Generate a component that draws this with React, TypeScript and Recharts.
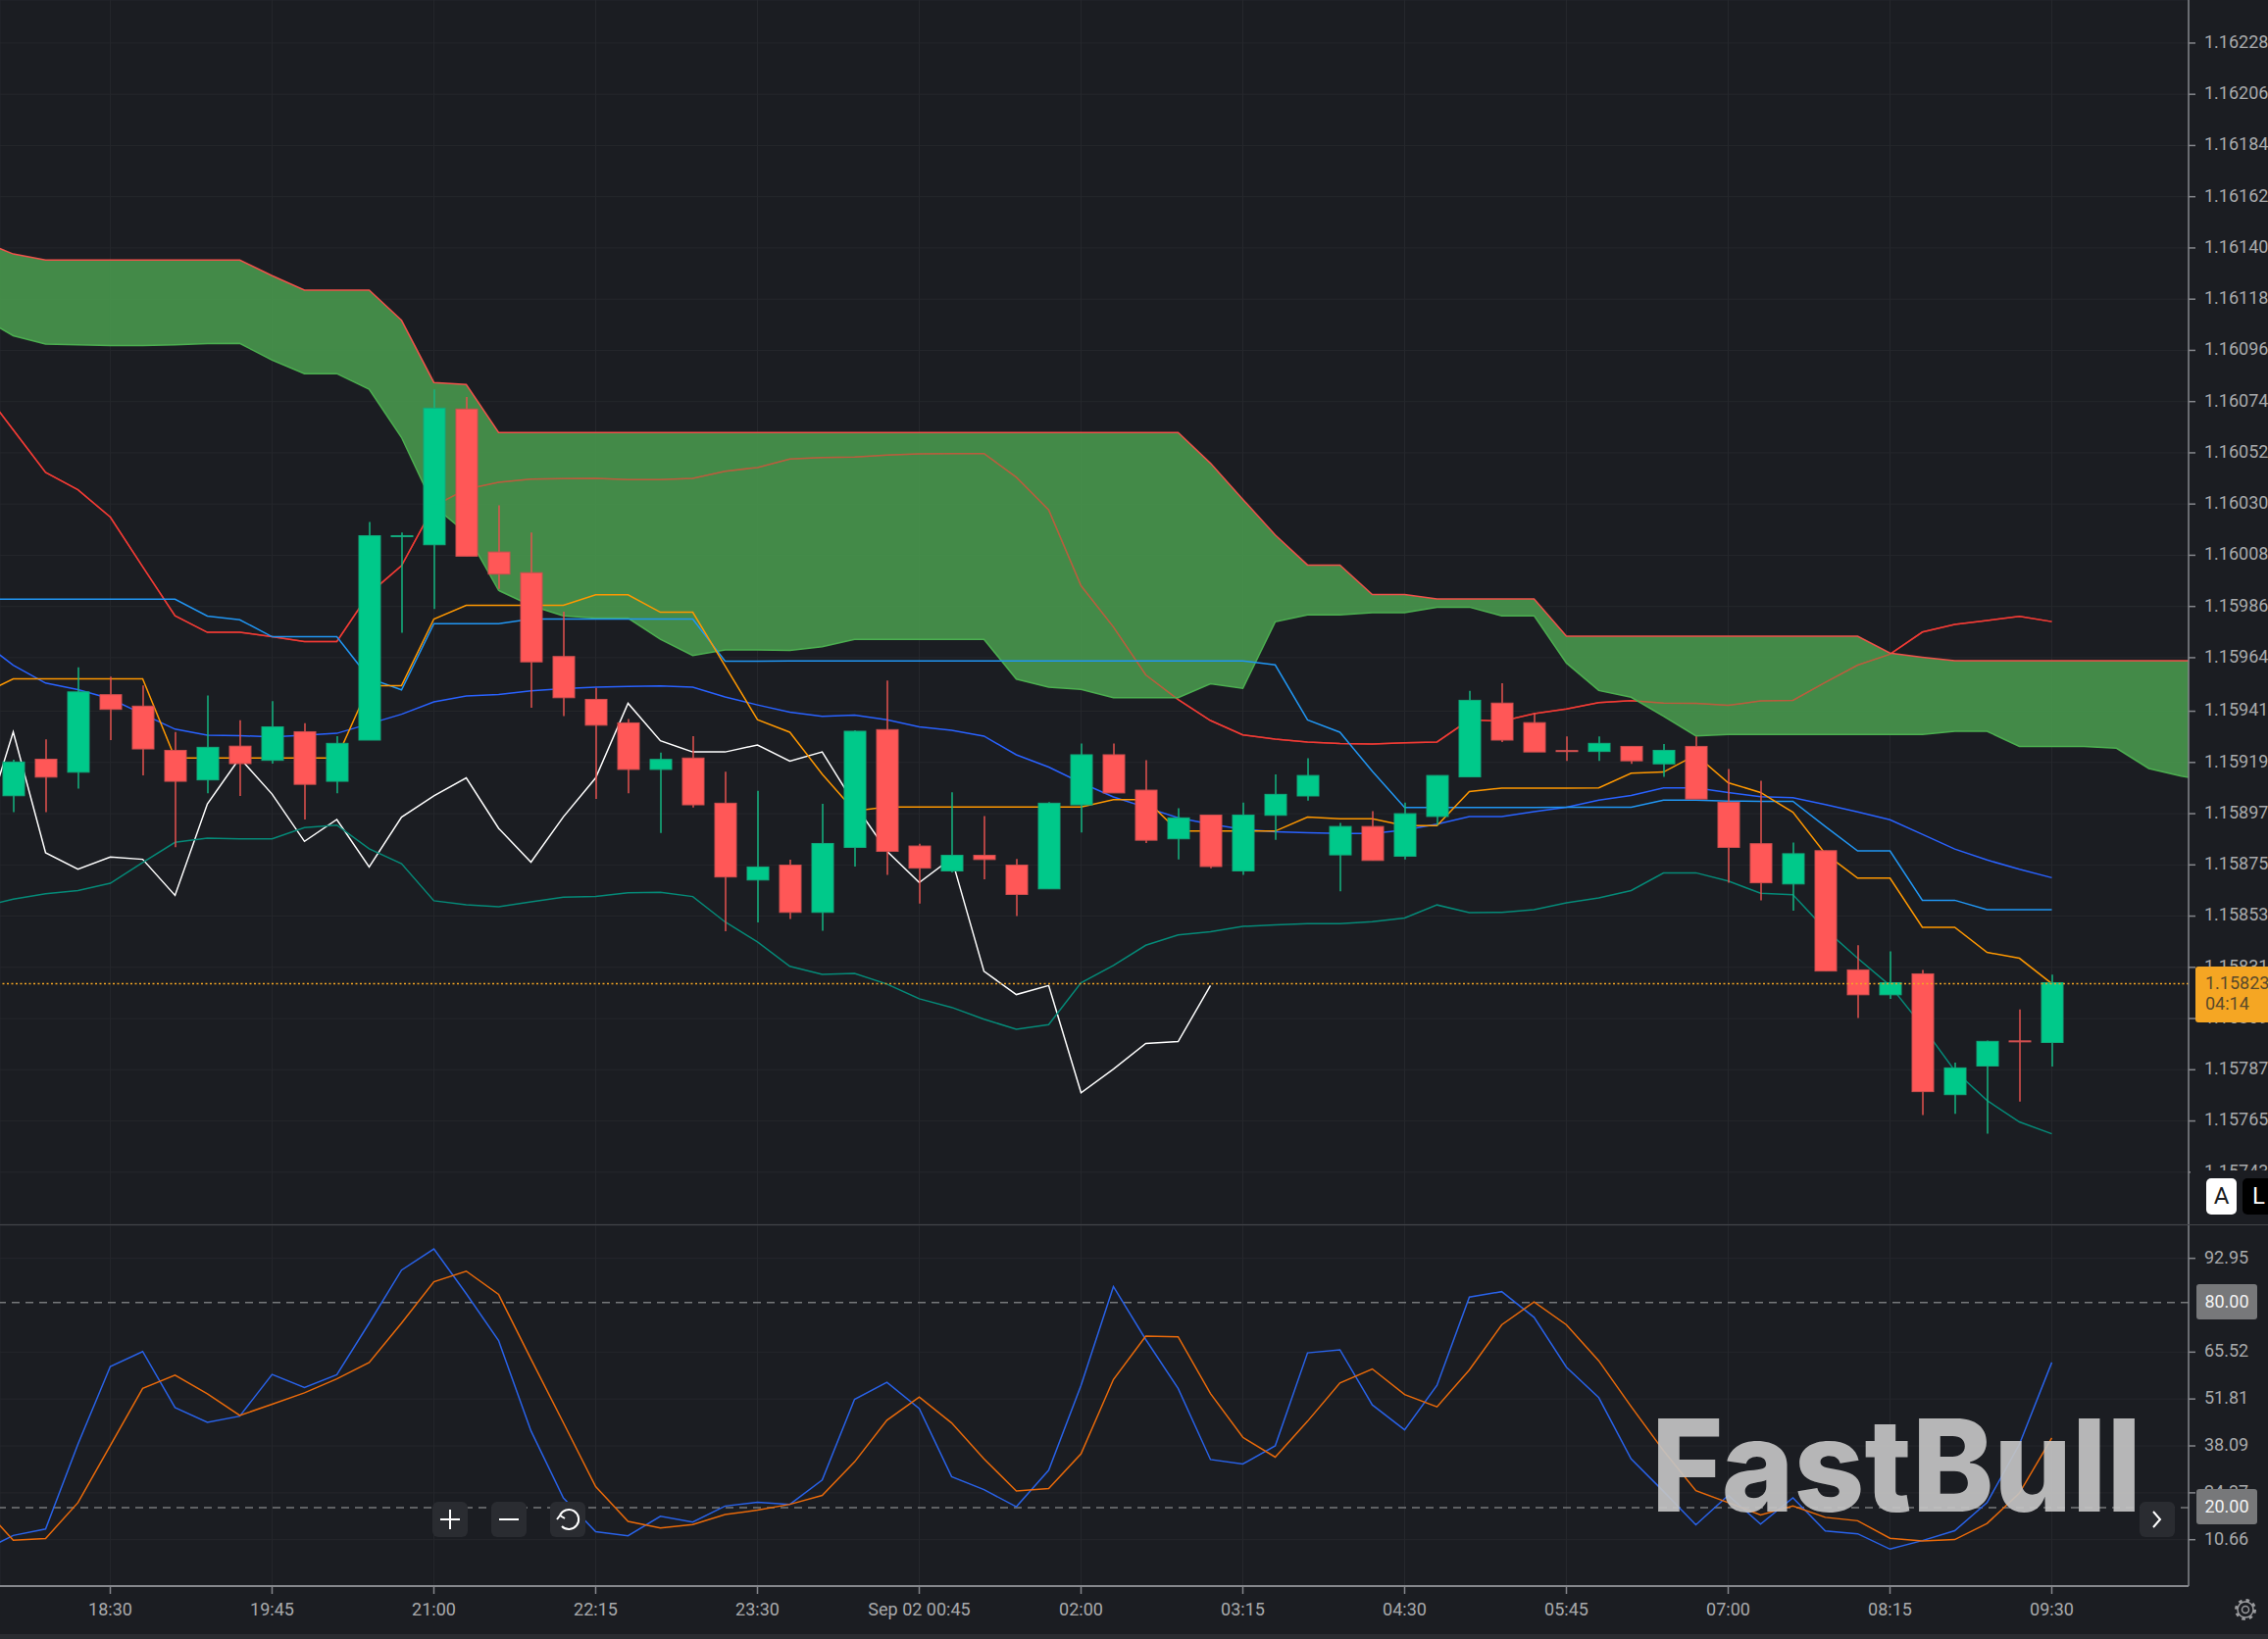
import { Area, Bar, CartesianGrid, ComposedChart, Line, ReferenceLine, XAxis, YAxis } from 'recharts';

const BG = '#1b1d22';
const GRID = '#25272c';
const AXIS = '#85878c';
const TEXT = '#a8a9ab';
const FONT = 'Roboto, sans-serif';

// candles, one per 15 minutes, bar 0 is the first one on screen
const opens = [1.159047, 1.159204, 1.159148, 1.159481, 1.159432, 1.159242, 1.159115, 1.15926, 1.159199, 1.159322, 1.159109, 1.159286, 1.160162, 1.160125, 1.160708, 1.160094, 1.160005, 1.159645, 1.159461, 1.15936, 1.15916, 1.159209, 1.159015, 1.158685, 1.158749, 1.158546, 1.158825, 1.159331, 1.158831, 1.158724, 1.158791, 1.158749, 1.158647, 1.159008, 1.159223, 1.159071, 1.158862, 1.158964, 1.158724, 1.158963, 1.159046, 1.158793, 1.158915, 1.158787, 1.158958, 1.159128, 1.159445, 1.159361, 1.159241, 1.159237, 1.159259, 1.159184, 1.159259, 1.159019, 1.158841, 1.158668, 1.158811, 1.158299, 1.158192, 1.158282, 1.157763, 1.157886, 1.157994, 1.157987];
const closes = [1.159192, 1.159127, 1.159493, 1.159418, 1.159248, 1.159109, 1.159255, 1.159185, 1.159343, 1.159096, 1.159272, 1.160164, 1.160164, 1.160712, 1.160076, 1.159999, 1.159622, 1.159468, 1.15935, 1.15916, 1.159203, 1.159008, 1.158698, 1.158741, 1.158546, 1.158842, 1.159324, 1.158808, 1.158736, 1.158791, 1.158773, 1.158623, 1.159015, 1.159223, 1.159059, 1.158856, 1.158952, 1.158743, 1.158964, 1.159053, 1.159134, 1.158915, 1.158769, 1.15897, 1.159134, 1.159457, 1.159286, 1.159235, 1.15924, 1.159272, 1.159197, 1.159242, 1.159033, 1.158825, 1.158673, 1.158798, 1.158294, 1.158192, 1.158244, 1.157776, 1.157878, 1.157992, 1.157993, 1.158244];
const highs = [1.159202, 1.159289, 1.159599, 1.159559, 1.159521, 1.159321, 1.159478, 1.159371, 1.159453, 1.159359, 1.159303, 1.160223, 1.160178, 1.160792, 1.16076, 1.160294, 1.160178, 1.159838, 1.15951, 1.159377, 1.159232, 1.159303, 1.15915, 1.159068, 1.158772, 1.159012, 1.159328, 1.159542, 1.158841, 1.159062, 1.15896, 1.158776, 1.15902, 1.159271, 1.159271, 1.1592, 1.158993, 1.158964, 1.159018, 1.159139, 1.159208, 1.15893, 1.158981, 1.159018, 1.159134, 1.159498, 1.15953, 1.159403, 1.159302, 1.159302, 1.159259, 1.159269, 1.159302, 1.159162, 1.159111, 1.158846, 1.158811, 1.158405, 1.158379, 1.158299, 1.157901, 1.157996, 1.158129, 1.158279];
const lows = [1.158977, 1.158977, 1.159078, 1.159286, 1.159134, 1.158826, 1.159058, 1.159046, 1.159185, 1.158945, 1.159058, 1.159286, 1.159747, 1.159849, 1.160076, 1.159936, 1.159425, 1.159389, 1.159033, 1.159058, 1.158887, 1.158997, 1.158465, 1.158503, 1.158518, 1.158467, 1.158743, 1.158707, 1.158584, 1.158718, 1.158688, 1.15853, 1.158647, 1.158889, 1.159059, 1.158844, 1.158773, 1.158736, 1.158707, 1.158858, 1.159026, 1.158637, 1.158769, 1.158773, 1.158922, 1.159128, 1.159278, 1.159235, 1.159197, 1.159197, 1.159184, 1.159128, 1.159033, 1.158673, 1.158598, 1.158553, 1.158294, 1.158092, 1.158174, 1.157675, 1.157681, 1.157595, 1.157733, 1.157884];

// the indicator arrays start one bar before bar 0, so the lines run off the left edge
const spanA = [1.16143, 1.161374, 1.161348, 1.161348, 1.161348, 1.161348, 1.161348, 1.161348, 1.161348, 1.161281, 1.161219, 1.161219, 1.161219, 1.161089, 1.160822, 1.160813, 1.160607, 1.160607, 1.160607, 1.160607, 1.160607, 1.160607, 1.160607, 1.160607, 1.160607, 1.160607, 1.160607, 1.160607, 1.160607, 1.160607, 1.160607, 1.160607, 1.160607, 1.160607, 1.160607, 1.160607, 1.160607, 1.160607, 1.160475, 1.16032, 1.160167, 1.160038, 1.160038, 1.159911, 1.159911, 1.159892, 1.159892, 1.159892, 1.159892, 1.159732, 1.159732, 1.159732, 1.159732, 1.159732, 1.159732, 1.159732, 1.159732, 1.159732, 1.159732, 1.15966, 1.159642, 1.159627, 1.159627, 1.159627, 1.159627, 1.159627, 1.159627, 1.159627, 1.159627, 1.159627];
const spanB = [1.161103, 1.161023, 1.160987, 1.160984, 1.160981, 1.160981, 1.160984, 1.160989, 1.16099, 1.160918, 1.16086, 1.16086, 1.160793, 1.160586, 1.160291, 1.160176, 1.159929, 1.159864, 1.15982, 1.15981, 1.15981, 1.159719, 1.159649, 1.159673, 1.159673, 1.159671, 1.159687, 1.159719, 1.159719, 1.159719, 1.159719, 1.159719, 1.159548, 1.159513, 1.159504, 1.159468, 1.159468, 1.159468, 1.159528, 1.159508, 1.159794, 1.159824, 1.159824, 1.159833, 1.159833, 1.159857, 1.159857, 1.15982, 1.15982, 1.159617, 1.159499, 1.15947, 1.159389, 1.159304, 1.15931, 1.15931, 1.15931, 1.15931, 1.15931, 1.15931, 1.15931, 1.159324, 1.159324, 1.159259, 1.159259, 1.159259, 1.159251, 1.159164, 1.159131, 1.159111];
const tenkan = [1.159482, 1.159549, 1.159549, 1.159549, 1.159549, 1.159549, 1.159209, 1.159209, 1.159209, 1.159209, 1.159209, 1.159209, 1.15952, 1.15952, 1.159806, 1.159865, 1.159865, 1.159865, 1.159865, 1.15991, 1.15991, 1.159835, 1.159835, 1.159604, 1.159374, 1.15932, 1.15914, 1.158982, 1.158999, 1.158999, 1.158999, 1.158999, 1.158999, 1.158999, 1.158999, 1.15903, 1.15903, 1.158895, 1.158895, 1.158895, 1.158895, 1.158955, 1.158948, 1.158948, 1.158919, 1.158919, 1.159065, 1.15908, 1.15908, 1.15908, 1.159081, 1.159144, 1.159149, 1.159222, 1.159103, 1.159061, 1.158976, 1.158798, 1.158693, 1.158693, 1.158482, 1.158482, 1.158374, 1.158349, 1.15824];
const kijun = [1.159891, 1.159891, 1.159891, 1.159891, 1.159891, 1.159891, 1.159891, 1.159819, 1.159803, 1.15973, 1.15973, 1.15973, 1.159552, 1.159502, 1.159786, 1.159786, 1.159786, 1.159806, 1.159806, 1.159806, 1.159806, 1.159806, 1.159806, 1.159625, 1.159625, 1.159626, 1.159626, 1.159626, 1.159626, 1.159626, 1.159626, 1.159626, 1.159626, 1.159626, 1.159626, 1.159626, 1.159626, 1.159626, 1.159626, 1.159626, 1.159609, 1.159373, 1.15932, 1.159152, 1.158997, 1.158997, 1.158997, 1.158997, 1.158997, 1.158998, 1.158998, 1.158998, 1.159028, 1.159028, 1.159024, 1.159023, 1.159023, 1.158915, 1.15881, 1.15881, 1.158598, 1.158598, 1.158558, 1.158558, 1.158558];
const chikou: (number | null)[] = [1.158872, 1.159321, 1.158802, 1.158732, 1.158784, 1.158774, 1.158619, 1.159012, 1.159209, 1.159054, 1.158851, 1.158945, 1.158741, 1.158955, 1.159047, 1.159124, 1.158907, 1.158762, 1.158956, 1.159124, 1.159444, 1.159283, 1.159235, 1.159235, 1.159265, 1.159196, 1.159235, 1.159012, 1.158809, 1.158674, 1.158779, 1.158293, 1.158193, 1.158232, 1.157771, 1.157873, 1.157983, 1.157991, 1.158232];
const bbUpper = [1.16080, 1.160619, 1.160436, 1.160361, 1.160244, 1.160031, 1.15982, 1.159749, 1.159749, 1.15973, 1.159709, 1.159709, 1.159915, 1.160035, 1.160291, 1.160364, 1.160393, 1.160407, 1.160409, 1.16041, 1.160405, 1.160405, 1.16041, 1.160441, 1.160457, 1.160493, 1.1605, 1.160502, 1.16051, 1.160516, 1.160517, 1.160517, 1.160415, 1.160275, 1.159949, 1.159772, 1.159566, 1.15946, 1.15937, 1.159308, 1.15929, 1.159278, 1.159271, 1.159269, 1.159274, 1.159278, 1.159373, 1.159367, 1.1594, 1.15942, 1.159447, 1.159455, 1.159445, 1.159444, 1.159435, 1.159454, 1.159457, 1.159534, 1.159608, 1.159655, 1.15975, 1.159783, 1.1598, 1.159818, 1.159795];
const bbMiddle = [1.159714, 1.159608, 1.159531, 1.159503, 1.159464, 1.159398, 1.159333, 1.159307, 1.159305, 1.1593, 1.159307, 1.159315, 1.159356, 1.159397, 1.15945, 1.159475, 1.159482, 1.159498, 1.159507, 1.159513, 1.159517, 1.159519, 1.159513, 1.159471, 1.159437, 1.159406, 1.159388, 1.159393, 1.159373, 1.159343, 1.159328, 1.159303, 1.159223, 1.15917, 1.159103, 1.159042, 1.158997, 1.158952, 1.158925, 1.158903, 1.158892, 1.158888, 1.158885, 1.158885, 1.1589, 1.158925, 1.158958, 1.158958, 1.158979, 1.158998, 1.159028, 1.159048, 1.159081, 1.159081, 1.159061, 1.159043, 1.159039, 1.159009, 1.158978, 1.158944, 1.158881, 1.158818, 1.158771, 1.158731, 1.158695];
const bbLower = [1.15857, 1.158603, 1.158626, 1.15864, 1.158671, 1.15876, 1.158847, 1.158865, 1.158862, 1.158862, 1.15891, 1.158921, 1.158819, 1.158755, 1.158596, 1.158579, 1.15857, 1.158591, 1.158611, 1.158614, 1.15863, 1.158632, 1.158614, 1.158505, 1.158419, 1.158314, 1.15828, 1.158284, 1.158238, 1.158175, 1.158138, 1.158087, 1.158044, 1.158064, 1.158244, 1.158318, 1.158405, 1.158449, 1.158463, 1.158486, 1.158492, 1.158498, 1.158498, 1.158506, 1.158522, 1.158578, 1.158545, 1.158546, 1.158558, 1.158587, 1.158608, 1.15864, 1.158715, 1.158716, 1.158681, 1.158628, 1.158622, 1.158473, 1.158349, 1.158232, 1.158057, 1.157866, 1.157738, 1.157646, 1.157595];

// stochastic pane
const stochK = [7.2, 11.9, 13.8, 38.6, 61.3, 65.7, 49.3, 45.0, 46.8, 59.0, 55.2, 58.9, 74.0, 89.5, 95.7, 82.6, 68.9, 42.5, 22.9, 13.0, 11.8, 17.5, 15.8, 20.5, 21.6, 21.0, 28.1, 51.7, 56.7, 49.0, 29.1, 25.3, 20.3, 31.0, 55.8, 84.7, 69.2, 54.9, 34.1, 32.8, 38.1, 65.3, 66.2, 50.1, 42.8, 55.8, 81.6, 83.2, 75.7, 61.1, 52.2, 34.3, 24.8, 15.0, 23.6, 15.2, 22.9, 13.2, 12.4, 7.9, 10.4, 13.3, 21.5, 38.6, 62.5];
const stochD = [21.0, 10.5, 11.0, 21.5, 38.2, 54.9, 58.8, 53.3, 47.0, 50.3, 53.6, 57.7, 62.5, 74.0, 86.1, 89.2, 82.4, 63.5, 44.9, 26.2, 16.0, 14.1, 15.1, 18.0, 19.3, 21.0, 23.6, 33.4, 45.6, 52.4, 44.8, 34.3, 24.9, 25.6, 35.8, 57.5, 70.2, 70.0, 53.4, 40.6, 34.8, 45.3, 56.5, 60.6, 53.1, 49.5, 60.3, 73.5, 80.2, 73.5, 63.0, 49.6, 36.7, 25.0, 21.5, 17.9, 20.5, 17.2, 16.2, 11.1, 10.3, 10.7, 15.4, 24.3, 40.4];

const priceTicks = [1.16228, 1.16206, 1.16184, 1.16162, 1.1614, 1.16118, 1.16096, 1.16074, 1.16052, 1.1603, 1.16008, 1.15986, 1.15964, 1.15941, 1.15919, 1.15897, 1.15875, 1.15853, 1.15831, 1.15809, 1.15787, 1.15765, 1.15743];
const stochTicks = [92.95, 65.52, 51.81, 38.09, 24.37, 10.66];
const timeTicks = [3, 8, 13, 18, 23, 28, 33, 38, 43, 48, 53, 58, 63];
const timeLabels = ['18:30', '19:45', '21:00', '22:15', '23:30', 'Sep 02 00:45', '02:00', '03:15', '04:30', '05:45', '07:00', '08:15', '09:30'];

const lastPrice = 1.15824;
const xDomain = [-0.409, 67.227];

const priceRows = spanA.map((a, k) => {
  const bar = k - 1;
  const hasCandle = bar >= 0 && bar < opens.length;
  return {
    bar,
    cloud: [spanB[k], a],
    spanA: a,
    spanB: spanB[k],
    tenkan: tenkan[k] ?? null,
    kijun: kijun[k] ?? null,
    chikou: chikou[k] ?? null,
    bbUpper: bbUpper[k] ?? null,
    bbMiddle: bbMiddle[k] ?? null,
    bbLower: bbLower[k] ?? null,
    open: hasCandle ? opens[bar] : null,
    close: hasCandle ? closes[bar] : null,
    high: hasCandle ? highs[bar] : null,
    low: hasCandle ? lows[bar] : null,
    wick: hasCandle ? [lows[bar], highs[bar]] : null,
  };
});

const stochRows = stochK.map((k, i) => ({ bar: i - 1, k, d: stochD[i] }));

function Candle(props: any) {
  const { x, y, width, height, payload } = props;
  if (!payload || payload.wick == null || !isFinite(y) || !isFinite(height)) return null;
  const { open, close, high, low } = payload;
  const up = close >= open;
  const perUnit = height / (high - low);
  const top = y + (high - Math.max(open, close)) * perUnit;
  const bodyH = Math.max(Math.abs(close - open) * perUnit, 1);
  const cx = x + width / 2;
  return (
    <g>
      <line x1={cx} x2={cx} y1={y} y2={y + height} stroke={up ? '#14b682' : '#e5524f'} strokeWidth={1.5} />
      <rect x={x} y={top} width={width} height={bodyH} fill={up ? '#00c98a' : '#ff5757'} stroke={up ? '#12a97c' : '#d04f4f'} strokeWidth={1} />
    </g>
  );
}

const lineProps = { type: 'linear' as const, dot: false, activeDot: false, isAnimationActive: false, strokeWidth: 1.5 };
const tickStyle = { fill: TEXT, fontSize: 18, fontFamily: FONT };

function PricePane() {
  return (
    <ComposedChart width={2313} height={1249} data={priceRows} margin={{ top: 0, right: 0, bottom: 0, left: 0 }}>
      <CartesianGrid stroke={GRID} strokeWidth={1} />
      <XAxis dataKey="bar" type="number" domain={xDomain} ticks={timeTicks} allowDataOverflow hide />
      <YAxis
        orientation="right"
        width={81}
        domain={[1.157206, 1.162465]}
        ticks={priceTicks}
        interval={0}
        allowDataOverflow
        tickFormatter={(v: number) => v.toFixed(5)}
        tick={{ ...tickStyle, dy: -1.5 }}
        tickSize={7}
        tickMargin={9}
        axisLine={{ stroke: AXIS, strokeWidth: 1.5 }}
        tickLine={{ stroke: AXIS, strokeWidth: 1.5 }}
      />
      <Line {...lineProps} dataKey="bbUpper" stroke="#f23b35" zIndex={90} />
      <Area type="linear" dataKey="cloud" stroke="none" fill="#4a9e4f" fillOpacity={0.85} dot={false} activeDot={false} isAnimationActive={false} zIndex={100} />
      {/* same band again over the cloud, that is why it looks dull inside the green */}
      <Line {...lineProps} dataKey="bbUpper" stroke="#f23b35" strokeOpacity={0.62} zIndex={110} />
      <Line {...lineProps} dataKey="spanA" stroke="#f0524a" />
      <Line {...lineProps} dataKey="spanB" stroke="#4caf50" />
      <Line {...lineProps} dataKey="chikou" stroke="#ffffff" />
      <Line {...lineProps} dataKey="bbLower" stroke="#058a78" />
      <Line {...lineProps} dataKey="bbMiddle" stroke="#2962ff" />
      <Line {...lineProps} dataKey="kijun" stroke="#2196f3" />
      <Line {...lineProps} dataKey="tenkan" stroke="#ff9800" />
      <Bar dataKey="wick" barSize={22} shape={<Candle />} isAnimationActive={false} zIndex={450} />
      <ReferenceLine y={lastPrice} stroke="#f5a623" strokeWidth={1.5} strokeDasharray="2 2.5" zIndex={460} />
    </ComposedChart>
  );
}

function StochPane() {
  return (
    <ComposedChart width={2313} height={422} data={stochRows} margin={{ top: 0, right: 0, bottom: 0, left: 0 }}>
      <CartesianGrid stroke={GRID} strokeWidth={1} />
      <XAxis
        dataKey="bar"
        type="number"
        domain={xDomain}
        ticks={timeTicks}
        interval={0}
        allowDataOverflow
        height={54}
        tickFormatter={(v: number) => timeLabels[timeTicks.indexOf(v)]}
        tick={tickStyle}
        tickSize={8}
        tickMargin={9}
        axisLine={{ stroke: AXIS, strokeWidth: 2 }}
        tickLine={{ stroke: AXIS, strokeWidth: 1.5 }}
      />
      <YAxis
        orientation="right"
        width={81}
        domain={[-2.9, 102.6]}
        ticks={stochTicks}
        interval={0}
        allowDataOverflow
        tickFormatter={(v: number) => v.toFixed(2)}
        tick={{ ...tickStyle, dy: -1.5 }}
        tickSize={7}
        tickMargin={9}
        axisLine={{ stroke: AXIS, strokeWidth: 1.5 }}
        tickLine={{ stroke: AXIS, strokeWidth: 1.5 }}
      />
      <ReferenceLine y={80} stroke="#77787b" strokeWidth={1.5} strokeDasharray="8 6" />
      <ReferenceLine y={20} stroke="#77787b" strokeWidth={1.5} strokeDasharray="8 6" />
      <Line {...lineProps} dataKey="k" stroke="#2962e8" />
      <Line {...lineProps} dataKey="d" stroke="#ea6a0a" />
    </ComposedChart>
  );
}

const box = (left: number, top: number, width: number, height: number): React.CSSProperties => ({
  position: 'absolute',
  left,
  top,
  width,
  height,
});

function Button({ left, children }: { left: number; children: any }) {
  return (
    <div style={{ ...box(left, 1532, 36, 36), background: '#2a2c31', borderRadius: 6 }}>
      <svg width={36} height={36} fill="none" stroke="#fff" strokeWidth={2}>
        {children}
      </svg>
    </div>
  );
}

function Badge({ top, children }: { top: number; children: string }) {
  return (
    <div style={{ ...box(2240, top, 62, 36), background: '#77787a', borderRadius: 3, color: '#f2f2f2', font: `18px ${FONT}`, lineHeight: '35px', textAlign: 'center' }}>
      {children}
    </div>
  );
}

export default function App() {
  return (
    <div style={{ ...box(0, 0, 2313, 1672), position: 'fixed', background: BG, overflow: 'hidden' }}>
      <div style={box(0, 0, 2313, 1249)}>
        <PricePane />
      </div>
      <div style={box(0, 1250, 2313, 422)}>
        <StochPane />
      </div>
      <div style={{ ...box(0, 1249, 2313, 1), background: '#44464a' }} />

      <div style={{ ...box(2234, 1194, 79, 55), background: BG }} />
      <div style={{ ...box(2250, 1202, 31, 37), background: '#fff', borderRadius: 5, color: '#1b1d22', font: `24px ${FONT}`, lineHeight: '37px', textAlign: 'center' }}>A</div>
      <div style={{ ...box(2287, 1202, 40, 37), background: '#000', borderRadius: 5, color: '#fff', font: `24px ${FONT}`, lineHeight: '37px', paddingLeft: 10, boxSizing: 'border-box' }}>L</div>

      <div style={{ ...box(2239, 986, 80, 57), background: '#f5a623', borderRadius: 3, color: '#5a4a2a', font: `18px ${FONT}`, lineHeight: '21px', paddingTop: 6, paddingLeft: 10, boxSizing: 'border-box' }}>
        1.15823
        <br />
        04:14
      </div>

      <Badge top={1310}>80.00</Badge>
      <Badge top={1519}>20.00</Badge>

      <svg style={{ ...box(1680, 1420, 520, 150), opacity: 0.92 }}>
        <text x={4} y={122} textLength={500} lengthAdjust="spacingAndGlyphs" fill="#c4c4c4" fontFamily="Inter, sans-serif" fontWeight={800} fontSize={131}>FastBull</text>
      </svg>

      <Button left={441}>
        <path d="M8 18H28M18 8V28" />
      </Button>
      <Button left={501}>
        <path d="M8 18H28" />
      </Button>
      <Button left={561}>
        <path d="M10 14A10 10 0 1 1 12 25M10 14L7 18M10 14L15 17" />
      </Button>
      <Button left={2182}>
        <path d="M14 10L21 18L14 26" />
      </Button>

      <svg style={box(2278, 1630, 24, 24)} fill="none" stroke="#9a9b9e" strokeWidth={1.5}>
        <circle cx={12} cy={12} r={3.5} />
        <circle cx={12} cy={12} r={8} />
        <circle cx={12} cy={12} r={9.5} strokeWidth={3} strokeDasharray="3.5 4" />
      </svg>

      <div style={{ ...box(0, 1667, 2313, 5), background: '#2a2c31' }} />
    </div>
  );
}
